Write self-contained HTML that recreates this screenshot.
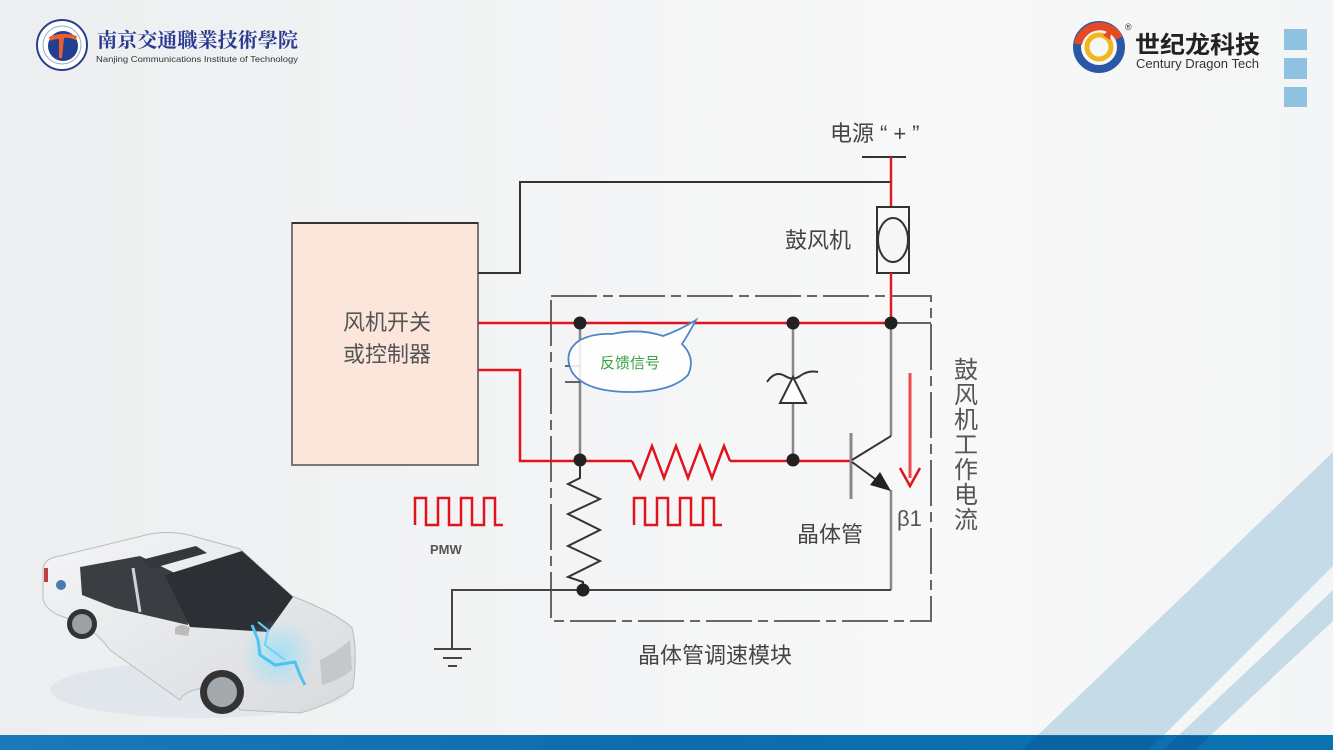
<!DOCTYPE html>
<html><head><meta charset="utf-8"><style>
html,body{margin:0;padding:0;}
body{width:1333px;height:750px;overflow:hidden;position:relative;background:linear-gradient(90deg,#eceeef 0%,#f3f4f5 40%,#f8f8f8 70%,#f4f5f6 100%);}
svg{position:absolute;left:0;top:0;}
</style></head><body>
<svg width="1333" height="750" viewBox="0 0 1333 750" xmlns="http://www.w3.org/2000/svg" font-family="'Liberation Sans','Noto Sans CJK SC',sans-serif">
<defs>
<linearGradient id="bar" x1="0" x2="1" y1="0" y2="0">
<stop offset="0" stop-color="#1a7ab8"/><stop offset="0.5" stop-color="#0d6cad"/><stop offset="1" stop-color="#0b72b2"/>
</linearGradient>
<radialGradient id="glow" cx="0.5" cy="0.5" r="0.5">
<stop offset="0" stop-color="#7fe0ff" stop-opacity="0.9"/><stop offset="1" stop-color="#7fe0ff" stop-opacity="0"/>
</radialGradient>
<linearGradient id="carbody" x1="0" y1="0" x2="1" y2="1">
<stop offset="0" stop-color="#f4f5f6"/><stop offset="1" stop-color="#d8dadd"/>
</linearGradient>
</defs>

<!-- right-bottom diagonal stripes -->
<polygon points="1037,736 1333,452 1333,566 1163,736" fill="#c6dbe8"/>
<polygon points="1178,736 1333,590 1333,621 1210,736" fill="#c6dbe8"/>
<!-- bottom bar -->
<rect x="0" y="735" width="1333" height="15" fill="url(#bar)"/>
<polygon points="1037,736 1163,736 1148,750 1022,750" fill="#0a5c99" opacity="0.6"/>
<polygon points="1178,736 1210,736 1195,750 1163,750" fill="#0a5c99" opacity="0.6"/>

<!-- left logo -->
<circle cx="62" cy="45" r="25" fill="#fff" stroke="#2a3f8c" stroke-width="2"/>
<circle cx="62" cy="45" r="19" fill="none" stroke="#9aa6c8" stroke-width="1"/>
<circle cx="63" cy="46" r="15" fill="#233f93"/>
<path d="M49,37 Q62,31 77,36 L76,40 Q68,37 64,38 L62,58 L59,58 L59,39 Q54,39 50,41 Z" fill="#e8612a"/>
<text x="97" y="47" font-family="'Noto Serif CJK SC','Noto Sans CJK SC',serif" font-size="20" font-weight="bold" fill="#2a3a90" textLength="201" lengthAdjust="spacingAndGlyphs">南京交通職業技術學院</text>
<text x="96" y="62" font-size="8.5" fill="#333" textLength="202" lengthAdjust="spacingAndGlyphs">Nanjing Communications Institute of Technology</text>

<!-- right logo -->
<circle cx="1099" cy="47" r="22" fill="none" stroke="#2b58a6" stroke-width="8"/>
<path d="M1078,44 A22,22 0 0 1 1119,38" fill="none" stroke="#e64a24" stroke-width="8"/>
<circle cx="1099" cy="47" r="12" fill="none" stroke="#f3b51d" stroke-width="5"/>
<path d="M1103,35 L1112,28 L1110,40 Z" fill="#e64a24"/>
<text x="1125" y="30" font-size="9" fill="#333">®</text>
<text x="1135" y="53" font-size="24" font-weight="bold" fill="#222" textLength="125" lengthAdjust="spacingAndGlyphs">世纪龙科技</text>
<text x="1136" y="68" font-size="13" fill="#333" textLength="123" lengthAdjust="spacingAndGlyphs">Century Dragon Tech</text>
<rect x="1284" y="29" width="23" height="21" fill="#8fc2e0"/>
<rect x="1284" y="58" width="23" height="21" fill="#8fc2e0"/>
<rect x="1284" y="87" width="23" height="20" fill="#8fc2e0"/>

<!-- controller box -->
<rect x="292" y="223" width="186" height="242" fill="#fce6dc" stroke="#777" stroke-width="2"/>
<line x1="292" y1="223" x2="478" y2="223" stroke="#333" stroke-width="2"/>
<text x="387" y="330" font-size="22" fill="#555" text-anchor="middle">风机开关</text>
<text x="387" y="362" font-size="22" fill="#555" text-anchor="middle">或控制器</text>

<!-- black wire to power -->
<polyline points="478,273 520,273 520,182 891,182" fill="none" stroke="#333" stroke-width="2"/>

<!-- power -->
<text x="830" y="141" font-size="22" fill="#444">电源</text>
<text x="880" y="141" font-size="22" fill="#444" letter-spacing="6">“+”</text>
<line x1="862" y1="157" x2="906" y2="157" stroke="#333" stroke-width="2"/>
<line x1="891" y1="157" x2="891" y2="207" stroke="#d91f26" stroke-width="2.5"/>

<!-- blower -->
<rect x="877" y="207" width="32" height="66" fill="none" stroke="#333" stroke-width="2"/>
<ellipse cx="893" cy="240" rx="15" ry="22" fill="#f6f6f6" stroke="#333" stroke-width="2"/>
<text x="785" y="248" font-size="22" fill="#444">鼓风机</text>
<line x1="891" y1="273" x2="891" y2="323" stroke="#d91f26" stroke-width="2.5"/>

<!-- dashed module box -->
<rect x="551" y="296" width="380" height="325" fill="none" stroke="#666" stroke-width="2" stroke-dasharray="46 6 10 6"/>

<!-- gray verticals -->
<line x1="580" y1="323" x2="580" y2="461" stroke="#888" stroke-width="2.5"/>
<line x1="793" y1="323" x2="793" y2="461" stroke="#888" stroke-width="2.5"/>
<line x1="891" y1="323" x2="891" y2="436" stroke="#888" stroke-width="2.5"/>
<line x1="891" y1="490" x2="891" y2="590" stroke="#888" stroke-width="2.5"/>
<line x1="565" y1="366" x2="580" y2="366" stroke="#333" stroke-width="1.5"/>
<line x1="565" y1="382" x2="580" y2="382" stroke="#333" stroke-width="1.5"/>

<!-- red wires -->
<line x1="478" y1="323" x2="891" y2="323" stroke="#e0141c" stroke-width="2.5"/>
<line x1="891" y1="323" x2="931" y2="323" stroke="#333" stroke-width="1.5"/>
<polyline points="478,370 520,370 520,461 632,461" fill="none" stroke="#e0141c" stroke-width="2.5"/>
<polyline points="632,461 640,478 652,446 664,478 676,446 688,478 700,446 712,478 724,446 730,461" fill="none" stroke="#e0141c" stroke-width="2.5" stroke-linejoin="miter"/>
<line x1="730" y1="461" x2="851" y2="461" stroke="#e0141c" stroke-width="2.5"/>

<!-- vertical resistor -->
<polyline points="580,461 580,478 568,484 600,499 568,514 600,530 568,546 600,561 568,577 583,582 583,590" fill="none" stroke="#333" stroke-width="2"/>

<!-- bottom black wire & ground -->
<polyline points="452,649 452,590 891,590" fill="none" stroke="#444" stroke-width="2"/>
<line x1="434" y1="649" x2="471" y2="649" stroke="#444" stroke-width="2"/>
<line x1="443" y1="658" x2="462" y2="658" stroke="#444" stroke-width="2"/>
<line x1="448" y1="666" x2="457" y2="666" stroke="#444" stroke-width="2"/>

<!-- zener diode -->
<polygon points="793,377 780,403 806,403" fill="#fff" stroke="#333" stroke-width="2"/>
<path d="M767,382 Q775,370 785,376 Q793,381 800,376 Q808,370 818,372" fill="none" stroke="#333" stroke-width="2"/>

<!-- transistor -->
<line x1="851" y1="433" x2="851" y2="499" stroke="#888" stroke-width="3"/>
<line x1="852" y1="460" x2="891" y2="436" stroke="#333" stroke-width="2"/>
<line x1="852" y1="462" x2="882" y2="484" stroke="#333" stroke-width="2"/>
<polygon points="891,491 870,485 880,472" fill="#222"/>

<!-- red current arrow -->
<line x1="910" y1="373" x2="910" y2="478" stroke="#ee4a52" stroke-width="3"/>
<polyline points="900,468 910,486 920,468" fill="none" stroke="#e0141c" stroke-width="2.5"/>

<text x="897" y="526" font-size="22" fill="#555">β1</text>
<text x="797" y="542" font-size="22" fill="#444">晶体管</text>
<text x="638" y="663" font-size="22" fill="#444">晶体管调速模块</text>

<!-- vertical text -->
<g font-size="24" fill="#555" text-anchor="middle">
<text x="966" y="378">鼓</text>
<text x="966" y="403">风</text>
<text x="966" y="428">机</text>
<text x="966" y="453">工</text>
<text x="966" y="478">作</text>
<text x="966" y="503">电</text>
<text x="966" y="528">流</text>
</g>

<!-- PWM waves -->
<polyline points="415,525 415,498 426,498 426,525 438,525 438,498 449,498 449,525 461,525 461,498 472,498 472,525 484,525 484,498 495,498 495,525 503,525" fill="none" stroke="#e0141c" stroke-width="2.5"/>
<polyline points="634,525 634,498 645,498 645,525 657,525 657,498 668,498 668,525 680,525 680,498 691,498 691,525 703,525 703,498 714,498 714,525 722,525" fill="none" stroke="#e0141c" stroke-width="2.5"/>
<text x="430" y="554" font-size="13" font-weight="bold" fill="#555">PMW</text>

<!-- junction dots -->
<g fill="#222">
<circle cx="580" cy="323" r="6.5"/>
<circle cx="793" cy="323" r="6.5"/>
<circle cx="891" cy="323" r="6.5"/>
<circle cx="580" cy="460" r="6.5"/>
<circle cx="793" cy="460" r="6.5"/>
<circle cx="583" cy="590" r="6.5"/>
</g>

<!-- speech bubble -->
<path d="M612,334 Q640,328 663,336 Q680,330 696,320 Q688,335 682,344 Q696,358 688,375 Q672,392 630,392 Q585,392 572,372 Q562,352 580,340 Q594,333 612,334 Z" fill="rgba(255,255,255,0.85)" stroke="#4d86c8" stroke-width="1.8"/>
<text x="630" y="368" font-size="15" fill="#3aa040" text-anchor="middle">反馈信号</text>

<!-- car -->
<ellipse cx="200" cy="690" rx="150" ry="28" fill="#c8d6e2" opacity="0.35"/>
<path d="M43,568 Q45,558 60,556 L150,534 Q165,531 185,534 L240,549 L292,596 Q340,615 352,628 Q358,650 353,688 Q330,705 300,713 L240,710 Q228,690 205,688 Q185,690 180,700 L110,650 Q95,630 80,624 Q68,618 58,615 Q44,608 43,598 Z" fill="url(#carbody)" stroke="#b8bcc0" stroke-width="1"/>
<path d="M80,567 L140,556 L185,578 L188,625 L115,608 Q95,600 82,595 Z" fill="#3a3d42"/>
<line x1="133" y1="568" x2="140" y2="612" stroke="#cfd2d6" stroke-width="3"/>
<path d="M165,575 L242,551 L293,597 L268,632 L190,627 Z" fill="#2c2f34"/>
<path d="M141,560 L196,546 L207,553 L150,569 Z" fill="#34373c"/>
<path d="M44,568 L48,568 L48,582 L44,582 Z" fill="#c04040"/>
<circle cx="82" cy="624" r="15" fill="#333"/>
<circle cx="82" cy="624" r="10" fill="#9aa0a6"/>
<circle cx="222" cy="692" r="22" fill="#333"/>
<circle cx="222" cy="692" r="15" fill="#a4a9ae"/>
<path d="M175,628 Q182,622 190,628 L188,636 Q180,635 175,634 Z" fill="#bbb"/>
<ellipse cx="278" cy="655" rx="38" ry="36" fill="url(#glow)" opacity="0.7"/>
<path d="M252,625 L258,640 L260,655 L275,665 L295,662 L300,675 L305,685" fill="none" stroke="#4fc3f0" stroke-width="3"/>
<path d="M258,622 L268,630 L265,645 L285,660" fill="none" stroke="#6fd0f5" stroke-width="2"/>
<path d="M320,660 Q340,650 350,640 L352,670 Q340,680 322,685 Z" fill="#c4c8cc"/>
<circle cx="61" cy="585" r="5" fill="#4a78b0"/>
</svg>
</body></html>
